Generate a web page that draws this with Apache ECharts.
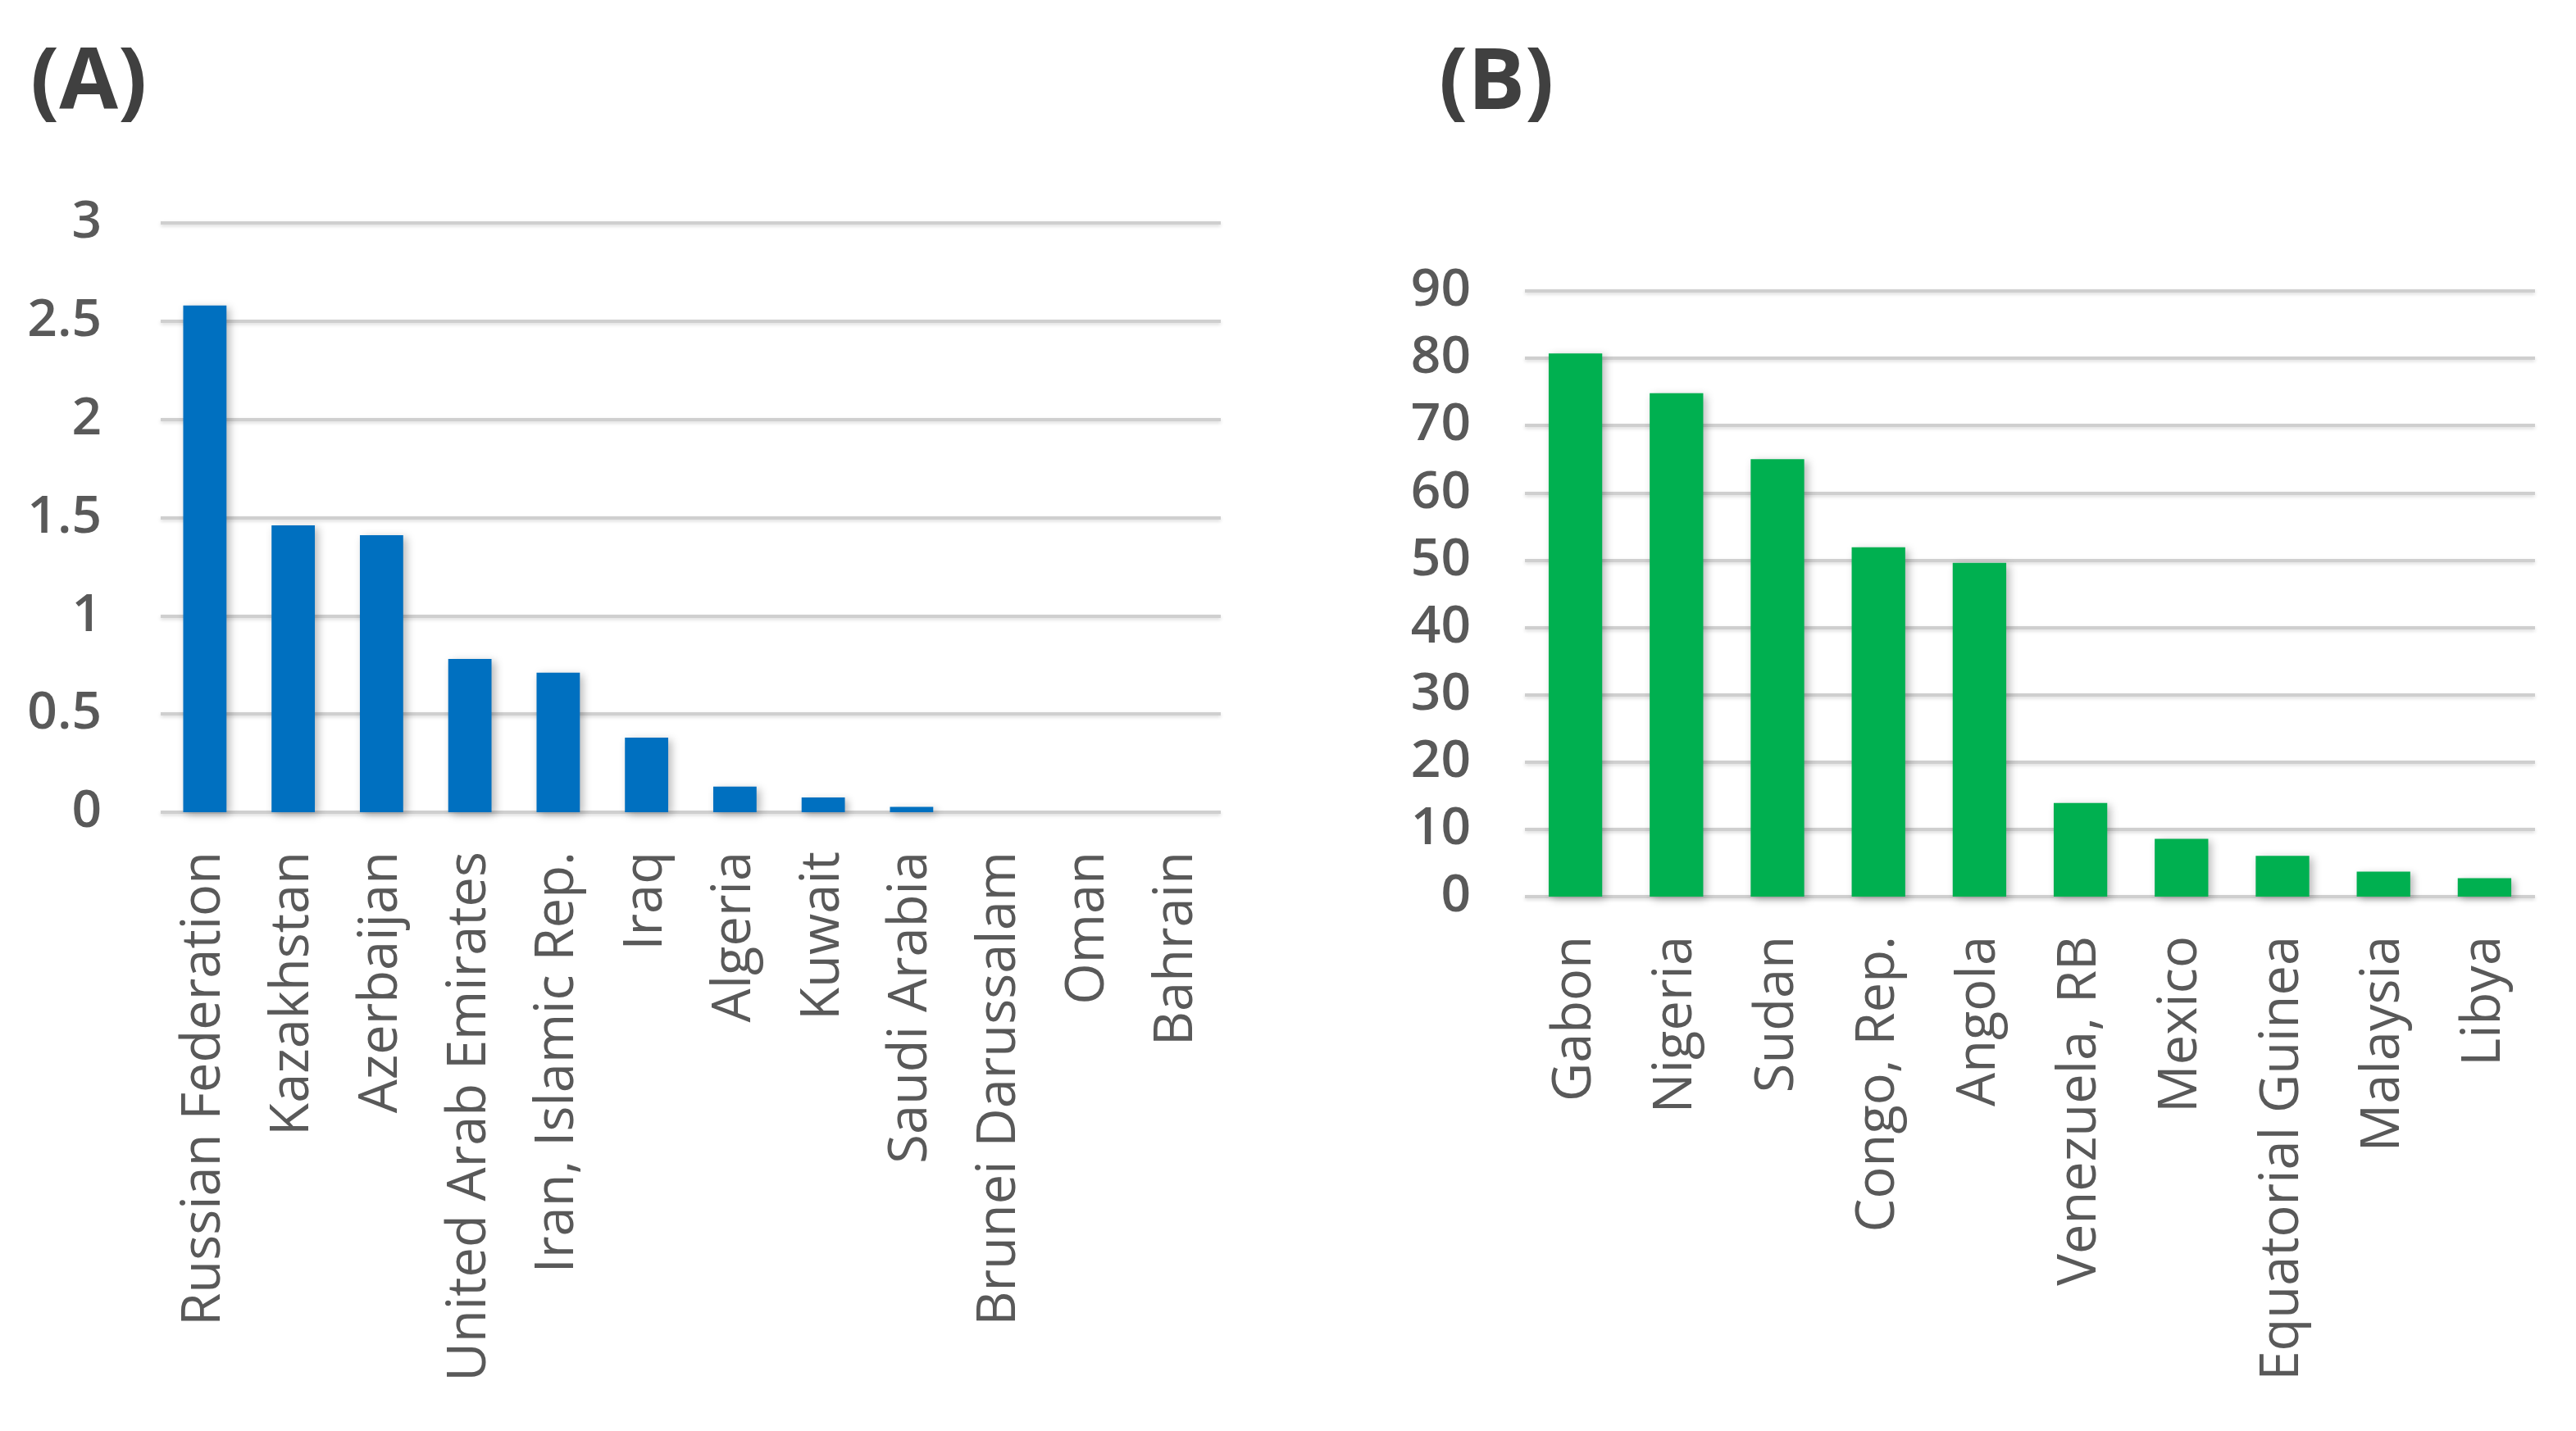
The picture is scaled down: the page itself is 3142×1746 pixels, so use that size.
<!DOCTYPE html>
<html>
<head>
<meta charset="utf-8">
<script src="https://cdn.jsdelivr.net/npm/echarts@6/dist/echarts.min.js"></script>
<style>
html,body{margin:0;padding:0;background:#fff;}
#chart{width:3142px;height:1746px;}
</style>
</head>
<body>
<div id="chart"></div>
<script>
const categoriesA = ['Russian Federation','Kazakhstan','Azerbaijan','United Arab Emirates','Iran, Islamic Rep.','Iraq','Algeria','Kuwait','Saudi Arabia','Brunei Darussalam','Oman','Bahrain'];
const valuesA = [2.58, 1.46, 1.41, 0.78, 0.71, 0.38, 0.13, 0.075, 0.027, 0, 0, 0];
const categoriesB = ['Gabon','Nigeria','Sudan','Congo, Rep.','Angola','Venezuela, RB','Mexico','Equatorial Guinea','Malaysia','Libya'];
const valuesB = [80.7, 74.8, 65.0, 51.9, 49.6, 13.9, 8.6, 6.05, 3.7, 2.75];
const titles = ['(A)', '(B)'];

const chart = echarts.init(document.getElementById('chart'));
const labelColor = '#595959';
const gridLine = {show: true, lineStyle: {color: '#cfcfcf', width: 4, shadowColor: 'rgba(0,0,0,0.15)', shadowBlur: 4, shadowOffsetY: 2}};
const barShadow = {shadowColor: 'rgba(0,0,0,0.28)', shadowBlur: 10, shadowOffsetX: 4, shadowOffsetY: 3};

function xAxis(idx, cats) {
  return {
    type: 'category', gridIndex: idx, data: cats,
    axisLine: {show: false}, axisTick: {show: false},
    axisLabel: {rotate: 90, margin: 48, fontFamily: 'Open Sans', fontSize: 65, color: labelColor, interval: 0}
  };
}
function yAxis(idx, max, interval, margin) {
  return {
    type: 'value', gridIndex: idx, min: 0, max: max, interval: interval,
    axisLine: {show: false}, axisTick: {show: false},
    splitLine: gridLine,
    axisLabel: {margin: margin, fontFamily: 'Open Sans', fontWeight: 600, fontSize: 64, color: labelColor}
  };
}

chart.setOption({
  animation: false,
  backgroundColor: '#fff',
  title: [
    {text: titles[0], left: 32, top: 46, textStyle: {fontFamily: 'Open Sans', fontWeight: 'bold', fontSize: 104, color: '#404040'}},
    {text: titles[1], left: 1750, top: 46, textStyle: {fontFamily: 'Open Sans', fontWeight: 'bold', fontSize: 104, color: '#404040'}}
  ],
  grid: [
    {left: 196, right: 1653, top: 272, bottom: 755},
    {left: 1860, right: 50, top: 355, bottom: 652}
  ],
  xAxis: [xAxis(0, categoriesA), xAxis(1, categoriesB)],
  yAxis: [yAxis(0, 3, 0.5, 72), yAxis(1, 90, 10, 66)],
  series: [
    {type: 'bar', xAxisIndex: 0, yAxisIndex: 0, data: valuesA, barWidth: '49%', itemStyle: Object.assign({color: '#0070C0'}, barShadow)},
    {type: 'bar', xAxisIndex: 1, yAxisIndex: 1, data: valuesB, barWidth: '53%', itemStyle: Object.assign({color: '#00B050'}, barShadow)}
  ]
});
</script>
</body>
</html>
